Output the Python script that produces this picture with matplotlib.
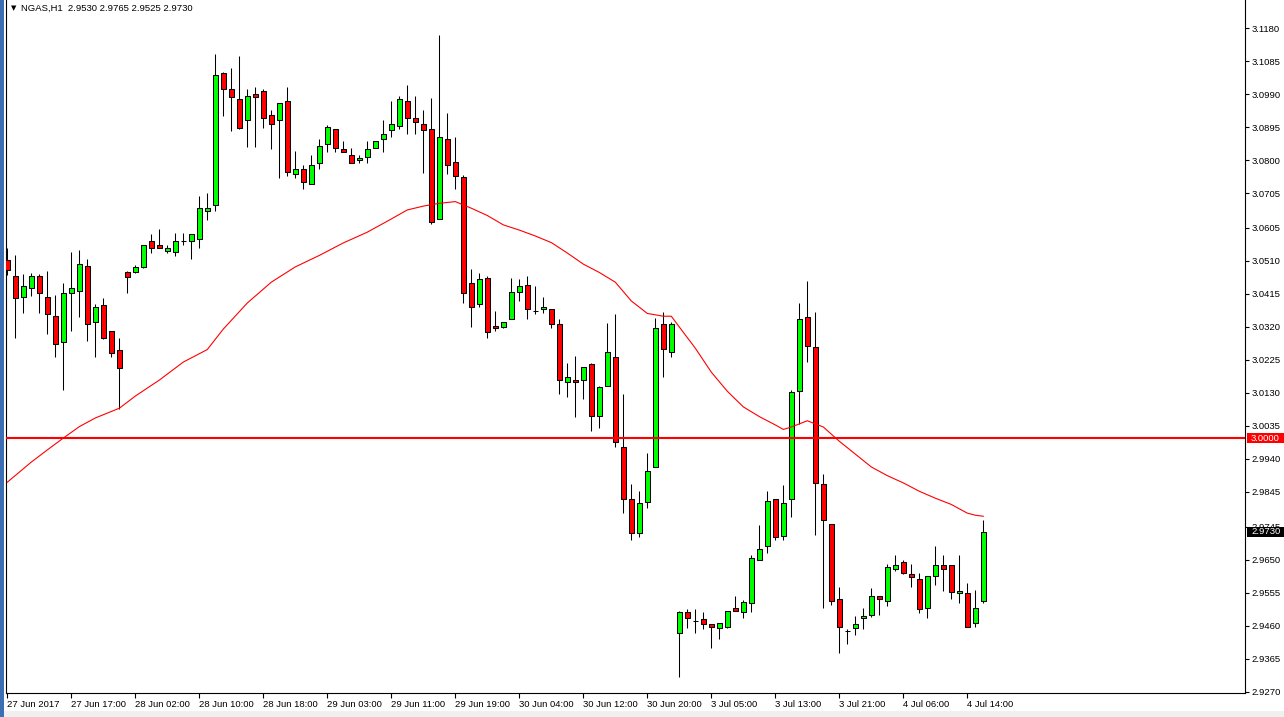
import matplotlib
matplotlib.use("Agg")
import matplotlib.pyplot as plt
import matplotlib.transforms as mtransforms
from matplotlib.patches import Rectangle
import numpy as np

# ---------------- data ----------------
title_symbol = "NGAS,H1"
title_ohlc = "2.9530 2.9765 2.9525 2.9730"

opens = [3.0513, 3.0467, 3.0405, 3.0431, 3.0467, 3.0405, 3.0351, 3.0276, 3.0417, 3.0424,
         3.0495, 3.0335, 3.0383, 3.0308, 3.0254, 3.0479, 3.0477, 3.0492, 3.0567, 3.0555,
         3.0539, 3.0535, 3.0567, 3.0569, 3.0574, 3.0655, 3.0671, 3.1050, 3.1004, 3.0976,
         3.0916, 3.0991, 3.0999, 3.0930, 3.0916, 3.0971, 3.0760, 3.0774, 3.0731, 3.0791,
         3.0846, 3.0889, 3.0832, 3.0815, 3.0800, 3.0810, 3.0834, 3.0860, 3.0886, 3.0899,
         3.0971, 3.0921, 3.0904, 3.0889, 3.0630, 3.0860, 3.0794, 3.0751, 3.0446, 3.0385,
         3.0460, 3.0323, 3.0321, 3.0342, 3.0420, 3.0441, 3.0367, 3.0371, 3.0371, 3.0330,
         3.0161, 3.0167, 3.0167, 3.0212, 3.0063, 3.0151, 3.0234, 2.9975, 2.9824, 2.9728,
         2.9817, 2.9916, 3.0328, 3.0247, 2.9438, 2.9498, 2.9473, 2.9478, 2.9464, 2.9452,
         2.9457, 2.9512, 2.9498, 2.9524, 2.9649, 2.9690, 2.9824, 2.9719, 2.9824, 3.0136,
         3.0348, 3.0261, 2.9867, 2.9754, 2.9538, 2.9444, 2.9454, 2.9483, 2.9492, 2.9546,
         2.9531, 2.9622, 2.9642, 2.9608, 2.9593, 2.9512, 2.9603, 2.9636, 2.9634, 2.9553,
         2.9553, 2.9469, 2.9530]
highs = [3.0547, 3.0527, 3.0472, 3.0476, 3.0472, 3.0481, 3.0412, 3.0447, 3.0535, 3.0541,
         3.0516, 3.0386, 3.0402, 3.0308, 3.0287, 3.0481, 3.0498, 3.0556, 3.0588, 3.0602,
         3.0555, 3.0590, 3.0590, 3.0587, 3.0697, 3.0705, 3.1106, 3.1053, 3.1067, 3.1100,
         3.1004, 3.1010, 3.1004, 3.0945, 3.0964, 3.1010, 3.0827, 3.0786, 3.0815, 3.0860,
         3.0902, 3.0889, 3.0855, 3.0834, 3.0815, 3.0855, 3.0855, 3.0916, 3.0971, 3.0985,
         3.1017, 3.0985, 3.0945, 3.0978, 3.1161, 3.0937, 3.0868, 3.0757, 3.0487, 3.0476,
         3.0467, 3.0366, 3.0335, 3.0462, 3.0458, 3.0467, 3.0438, 3.0407, 3.0371, 3.0342,
         3.0215, 3.0236, 3.0205, 3.0215, 3.0151, 3.0332, 3.0357, 3.0126, 2.9868, 2.9847,
         2.9956, 3.0345, 3.0364, 3.0335, 2.9503, 2.9507, 2.9507, 2.9500, 2.9464, 2.9469,
         2.9503, 2.9545, 2.9534, 2.9663, 2.9750, 2.9848, 2.9824, 2.9865, 3.0138, 3.0388,
         3.0452, 3.0362, 2.9898, 2.9754, 2.9571, 2.9449, 2.9487, 2.9512, 2.9567, 2.9546,
         2.9637, 2.9663, 2.9649, 2.9637, 2.9613, 2.9603, 2.9689, 2.9663, 2.9634, 2.9663,
         2.9582, 2.9562, 2.9765]
lows = [3.0470, 3.0287, 3.0361, 3.0410, 3.0361, 3.0300, 3.0234, 3.0138, 3.0309, 3.0350,
        3.0280, 3.0234, 3.0285, 3.0234, 3.0083, 3.0419, 3.0474, 3.0489, 3.0534, 3.0546,
        3.0532, 3.0525, 3.0555, 3.0515, 3.0546, 3.0629, 3.0654, 3.0927, 3.0885, 3.0889,
        3.0839, 3.0839, 3.0894, 3.0832, 3.0750, 3.0755, 3.0750, 3.0716, 3.0731, 3.0774,
        3.0825, 3.0825, 3.0825, 3.0791, 3.0793, 3.0793, 3.0834, 3.0825, 3.0868, 3.0889,
        3.0875, 3.0875, 3.0764, 3.0616, 3.0630, 3.0760, 3.0718, 3.0390, 3.0321, 3.0377,
        3.0287, 3.0309, 3.0316, 3.0342, 3.0395, 3.0342, 3.0356, 3.0361, 3.0316, 3.0126,
        3.0117, 3.0061, 3.0112, 3.0021, 3.0028, 3.0151, 2.9975, 2.9785, 2.9708, 2.9716,
        2.9798, 2.9916, 3.0177, 3.0234, 2.9313, 2.9452, 2.9438, 2.9449, 2.9396, 2.9423,
        2.9452, 2.9503, 2.9483, 2.9498, 2.9649, 2.9668, 2.9708, 2.9708, 2.9773, 3.0042,
        3.0220, 2.9721, 2.9511, 2.9519, 2.9382, 2.9407, 2.9433, 2.9450, 2.9485, 2.9490,
        2.9517, 2.9617, 2.9608, 2.9572, 2.9497, 2.9483, 2.9577, 2.9560, 2.9538, 2.9526,
        2.9457, 2.9457, 2.9525]
closes = [3.0484, 3.0402, 3.0438, 3.0467, 3.0417, 3.0356, 3.0270, 3.0417, 3.0431, 3.0501,
          3.0330, 3.0377, 3.0289, 3.0246, 3.0201, 3.0465, 3.0492, 3.0555, 3.0546, 3.0546,
          3.0546, 3.0569, 3.0567, 3.0587, 3.0662, 3.0664, 3.1046, 3.1004, 3.0983, 3.0892,
          3.0985, 3.0983, 3.0923, 3.0904, 3.0964, 3.0765, 3.0774, 3.0738, 3.0786, 3.0841,
          3.0895, 3.0834, 3.0825, 3.0793, 3.0807, 3.0832, 3.0855, 3.0876, 3.0904, 3.0976,
          3.0923, 3.0909, 3.0886, 3.0621, 3.0866, 3.0785, 3.0755, 3.0417, 3.0377, 3.0457,
          3.0306, 3.0316, 3.0335, 3.0420, 3.0438, 3.0371, 3.0366, 3.0377, 3.0328, 3.0167,
          3.0177, 3.0161, 3.0205, 3.0064, 3.0146, 3.0247, 2.9988, 2.9826, 2.9728, 2.9812,
          2.9906, 3.0316, 3.0256, 3.0328, 2.9498, 2.9483, 2.9473, 2.9464, 2.9457, 2.9469,
          2.9503, 2.9503, 2.9527, 2.9656, 2.9682, 2.9819, 2.9714, 2.9812, 3.0132, 3.0342,
          3.0266, 2.9872, 2.9763, 2.9531, 2.9455, 2.9444, 2.9464, 2.9487, 2.9545, 2.9538,
          2.9628, 2.9636, 2.9613, 2.9601, 2.9507, 2.9603, 2.9634, 2.9622, 2.9557, 2.9559,
          2.9457, 2.9512, 2.9730]

# moving average (bar index, price)
ma_bars = [0, 3, 5, 7, 9, 11, 14, 16, 19, 22, 25, 27, 30, 33, 36, 39, 42, 45, 48, 50,
           52, 54, 56, 58, 60, 62, 64, 66, 68, 70, 72, 74, 76, 78, 80, 82, 83, 84, 86, 88,
           90, 92, 94, 96, 97, 98, 100, 102, 104, 106, 108, 110, 112, 114, 116, 118, 120,
           121, 122]
ma_vals = [2.9873, 2.9931, 2.9966, 3.0000, 3.0033, 3.0058, 3.0086, 3.0121, 3.0167, 3.0219,
           3.0255, 3.0314, 3.0389, 3.0449, 3.0493, 3.0526, 3.0562, 3.0593, 3.0631, 3.0657,
           3.0668, 3.0676, 3.0681, 3.0662, 3.0641, 3.0614, 3.0599, 3.0582, 3.0563, 3.0533,
           3.0501, 3.0477, 3.0449, 3.0395, 3.0359, 3.0351, 3.0351, 3.0320, 3.0259, 3.0190,
           3.0135, 3.0090, 3.0062, 3.0038, 3.0025, 3.0032, 3.0050, 3.0032, 2.9991, 2.9954,
           2.9917, 2.9892, 2.9871, 2.9847, 2.9827, 2.9809, 2.9784, 2.9778, 2.9775]

level_price = 3.0000
last_price = 2.9730

time_tick_bars = [0, 8, 16, 24, 32, 40, 48, 56, 64, 72, 80, 88, 96, 104, 112, 120]
time_labels = ["27 Jun 2017", "27 Jun 17:00", "28 Jun 02:00", "28 Jun 10:00",
               "28 Jun 18:00", "29 Jun 03:00", "29 Jun 11:00", "29 Jun 19:00",
               "30 Jun 04:00", "30 Jun 12:00", "30 Jun 20:00", "3 Jul 05:00",
               "3 Jul 13:00", "3 Jul 21:00", "4 Jul 06:00", "4 Jul 14:00"]
price_labels = ["3.1180", "3.1085", "3.0990", "3.0895", "3.0800", "3.0705", "3.0605",
                "3.0510", "3.0415", "3.0320", "3.0225", "3.0130", "3.0035", "2.9940",
                "2.9845", "2.9745", "2.9650", "2.9555", "2.9460", "2.9365", "2.9270"]
price_ticks = [float(s) for s in price_labels]

# ---------------- figure ----------------
W, H = 1284, 717
FONT = "Liberation Sans"
FS = 6.8
fig = plt.figure(figsize=(W / 100, H / 100), dpi=100)
fig.patch.set_facecolor("white")

ax_left, ax_right, ax_top, ax_bottom = 6, 1245, 0, 693
ax = fig.add_axes([ax_left / W, (H - ax_bottom) / H,
                   (ax_right - ax_left) / W, (ax_bottom - ax_top) / H])
ax.set_facecolor("white")

x = np.arange(len(opens))
o = np.array(opens); h = np.array(highs); l = np.array(lows); c = np.array(closes)

ax.vlines(x, l, h, color="black", linewidth=0.75, zorder=2)
body_bottom = np.minimum(o, c)
body_h = np.abs(c - o)
body_colors = np.where(c > o, "#00FF00", "#FF0000")
ax.bar(x, body_h, bottom=body_bottom, width=0.58, color=body_colors,
       edgecolor="black", linewidth=0.75, zorder=3)

ax.plot(ma_bars, ma_vals, color="#FF0000", linewidth=0.8, zorder=4)
ax.axhline(level_price, color="#FF0000", linewidth=1.5, zorder=5)

ax.set_xlim(-0.1625, 154.7125)
ax.set_ylim(2.926609, 3.126149)

for side in ["left", "bottom", "right"]:
    ax.spines[side].set_color("black")
    ax.spines[side].set_linewidth(0.8)
ax.spines["top"].set_visible(False)

ax.set_xticks(time_tick_bars)
ax.set_xticklabels(time_labels, ha="left", fontsize=FS, family=FONT)
ax.tick_params(axis="x", direction="out", length=3.5, width=0.8, pad=1.5,
               colors="black")

ax.yaxis.tick_right()
ax.set_yticks(price_ticks)
ax.set_yticklabels(price_labels, fontsize=FS, family=FONT)
ax.tick_params(axis="y", direction="out", length=3, width=0.8, pad=2,
               colors="black")

# price boxes on the right scale
blend = mtransforms.blended_transform_factory(fig.transFigure, ax.transData)
half = 5.0 / 3473.0
for price, face in [(level_price, "#FF0000"), (last_price, "black")]:
    ax.add_patch(Rectangle((1247 / W, price - half), (W - 1247) / W, 2 * half,
                           transform=blend, facecolor=face, edgecolor="none",
                           clip_on=False, zorder=10))
    ax.text(1251 / W, price, f"{price:.4f}", transform=blend, color="white",
            fontsize=FS, family=FONT, va="center", ha="left", zorder=11,
            clip_on=False)

# title
fig.text(11 / W, 1 - 8 / H, "\u25BC", fontsize=5, family="DejaVu Sans",
         va="center", ha="left", color="black")
fig.text(21.5 / W, 1 - 8 / H, f"{title_symbol}  {title_ohlc}", fontsize=FS,
         family=FONT, va="center", ha="left", color="black")

# bottom status strip and left window border
fig.patches.append(Rectangle((0, 0), 1, 6 / H, transform=fig.transFigure,
                             facecolor="#F0F0F0", edgecolor="none", zorder=0))
fig.patches.append(Rectangle((0, 0), 4 / W, 1, transform=fig.transFigure,
                             facecolor="#3C6EB4", edgecolor="none", zorder=0))

fig.savefig("out.png", dpi=100, facecolor="white")
